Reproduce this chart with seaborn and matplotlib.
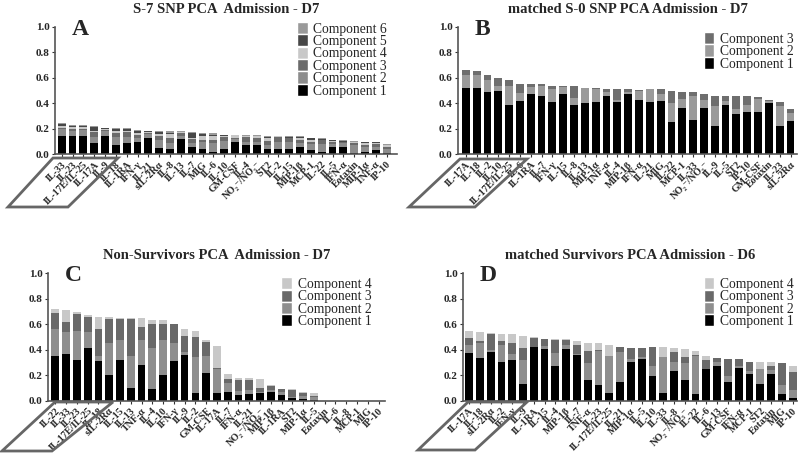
import numpy as np
import pandas as pd
import seaborn as sns
import matplotlib.pyplot as plt
from matplotlib.patches import Patch, Polygon

sns.set_style('ticks')
plt.rcParams['font.family'] = ['Liberation Serif', 'DejaVu Serif']

NOX = 'NO\u2082\u207b/NO\u2083\u207b'

# ---- panel A: S-7 SNP, 6 components
labels_a = ['IL-33', 'IL-23', 'IL-17E/IL-25', 'IL-17A', 'IL-9', 'IL-18', 'IL-1RA', 'IFN-γ',
            'IL-21', 'sIL-2Rα', 'IL-8', 'IL-13', 'IL-7', 'MIG', 'IL-6', 'IL-10', 'GM-CSF',
            'IL-4', NOX, 'ST2', 'IL-2', 'IL-15', 'MIP-1β', 'MCP-1', 'IL-22', 'IL-5',
            'IFN-α', 'Eotaxin', 'MIP-1α', 'TNF-α', 'IP-10']
a1 = [.145, .145, .145, .085, .145, .075, .09, .10, .13, .05, .04, .12, .06, .045, .02, .045,
      .10, .07, .07, .045, .045, .045, .06, .03, .02, .06, .06, .01, .015, .03, .01]
a2 = [.05, .04, .045, .05, .035, .06, .045, .03, .03, .06, .05, .02, .03, .05, .07, .06,
      .02, .03, .03, .03, .05, .05, .03, .05, .06, .02, .025, .06, .04, .03, .03]
a3 = [.015, .015, .01, .04, .01, .03, .04, .02, .01, .03, .04, .03, .03, .02, .02, .03,
      .01, .035, .03, .03, .04, .03, .02, .02, .03, .015, .01, .02, .02, .02, .015]
a4 = [.015, .015, .015, .01, .01, .02, .005, .02, .005, .02, .03, .005, .01, .03, .035, .01,
      .02, .005, .01, .02, .005, .005, .015, .015, .005, .01, .005, .01, .01, .01, .015]
a5 = [.01, .005, .005, .03, .005, .015, .02, .01, .005, .015, .01, .003, .04, .015, .01, .005,
      0, .005, .005, .01, 0, .005, .01, .01, .005, .005, .005, 0, .01, .005, .005]
a6 = [.01, .01, .01, .005, .005, .01, .005, .01, .005, .01, .01, .002, .005, .01, .01, .005,
      .005, .005, .005, .01, .005, .005, .005, .005, .005, .005, .005, .005, .005, .005, .005]

# ---- panel B: matched S-0 SNP, 3 components
labels_b = ['IL-17A', 'IL-18', 'IL-2', 'IL-10', 'IL-17E/IL-25', 'IL-6', 'IL-1RA', 'IL-7',
            'IFN-γ', 'IL-15', 'IL-8', 'IL-13', 'MIP-1α', 'TNF-α', 'IL-4', 'MIP-1β', 'IFN-α',
            'IL-21', 'MIG', 'IL-22', 'MCP-1', 'IL-33', NOX, 'IL-9', 'IL-5', 'ST2', 'IP-10',
            'GM-CSF', 'Eotaxin', 'IL-23', 'sIL-2Rα']
b1 = [.52, .52, .49, .50, .385, .42, .475, .46, .41, .47, .39, .40, .41, .46, .41, .47, .43,
      .41, .42, .25, .365, .27, .365, .22, .39, .315, .335, .335, .40, .22, .265]
b2 = [.10, .105, .095, .04, .155, .06, .05, .08, .10, .06, .05, .12, .10, .03, .02, .02, .07,
      .10, .05, .15, .07, .19, .06, .16, .03, .04, .05, .10, .02, .16, .06]
b3 = [.045, .03, .04, .06, .04, .075, .025, .015, .03, .01, .10, 0, .01, .02, .08, .02, .005,
      0, .04, .10, .055, .03, .045, .075, .035, .10, .07, .015, .01, .03, .03]

# ---- panel C: non-survivors, 4 components
labels_c = ['IL-22', 'IL-33', 'IL-23', 'IL-17E/IL-25', 'IL-18', 'sIL-2Rα', 'IL-15', 'IL-13',
            'TNF-α', 'IL-4', 'IL-10', 'IFN-γ', 'IL-9', 'IL-2', 'GM-CSF', 'IL-17A', 'IL-7',
            'IFN-α', 'IL-21', NOX, 'MIP-1β', 'IL-1RA', 'ST2', 'MIP-1α', 'IL-5', 'Eotaxin',
            'IL-6', 'IL-8', 'MCP-1', 'MIG', 'IP-10']
c1 = [.35, .37, .32, .41, .31, .20, .32, .10, .28, .09, .20, .31, .36, .06, .22, .06, .07,
      .045, .055, .06, .065, .045, .025, .015, .005, 0, 0, 0, 0, 0, 0]
c2 = [.21, .17, .23, .13, .04, .25, .16, .25, .20, .32, .28, .14, .02, .28, .13, .19, .07,
      .03, .03, .01, .02, .025, .005, .025, .025, 0, 0, 0, 0, 0, 0]
c3 = [.13, .08, .13, .12, .21, .19, .16, .29, .10, .19, .12, .15, .13, .16, .11, .01, .03,
      .09, .08, .03, .03, .02, .055, .02, .01, 0, 0, 0, 0, 0, 0]
c4 = [.03, .09, .02, .01, .10, .02, .01, .01, .07, .03, .03, 0, .05, .05, .02, .17, .04,
      .015, .01, .07, .01, .005, .005, .005, .02, 0, 0, 0, 0, 0, 0]

# ---- panel D: matched survivors, 4 components
labels_d = ['IL-17A', 'IL-18', 'sIL-2Rα', 'IL-2', 'IFN-γ', 'IL-9', 'IL-1RA', 'IL-15', 'IL-4',
            'MIP-1β', 'IL-7', 'TNF-α', 'IL-23', 'IL-17E/IL-25', 'IL-21', 'MIP-1α', 'IL-5',
            'IL-10', 'IL-33', 'IL-8', NOX, 'IL-22', 'IL-6', 'IL-13', 'GM-CSF', 'IFN-α',
            'MCP-1', 'ST2', 'Eotaxin', 'MIG', 'IP-10']
d1 = [.375, .335, .38, .30, .32, .13, .42, .408, .275, .405, .36, .165, .125, .058, .145, .30,
      .325, .19, .06, .23, .165, .055, .247, .275, .15, .26, .21, .13, .21, .055, .018]
d2 = [.06, .115, .02, .14, .05, .19, .005, .02, .10, .03, .01, .13, .265, .29, .24, .03, .02,
      .08, .285, .07, .13, .295, .005, .025, .045, .01, .02, .115, .03, .07, .065]
d3 = [.055, .015, .12, .03, .08, .09, .07, .055, .10, .04, .07, .095, .01, .005, .035, .08,
      .065, .15, 0, .08, .05, .01, .07, .035, .13, .055, .07, .005, .03, .17, .145]
d4 = [.055, .075, .01, .055, .07, .10, .005, .005, .01, .01, .03, .06, .05, .085, .005, .005,
      .005, 0, .08, .03, .06, .03, .03, 0, 0, 0, 0, .05, .03, 0, .045]

grey6 = ['#000000', '#8c8c8c', '#6b6b6b', '#c8c8c8', '#474747', '#9a9a9a']
grey3 = ['#000000', '#9a9a9a', '#6e6e6e']
grey4 = ['#000000', '#8e8e8e', '#696969', '#c8c8c8']

W, H = 800, 453
fig = plt.figure(figsize=(8, 4.53), dpi=100)


def px_box(x0, y0, x1, y1):
    return [x0 / W, 1 - y1 / H, (x1 - x0) / W, (y1 - y0) / H]


def panel(rect, labels, comps, colors, title, letter, xlim, leg_anchor):
    ax = fig.add_axes(rect)
    cum = np.cumsum(np.array(comps), axis=0)
    # draw from the top of the stack down so lower parts cover upper ones
    for k in range(len(comps) - 1, -1, -1):
        sns.barplot(x=labels, y=cum[k], order=labels, color=colors[k], saturation=1,
                    width=0.72, errorbar=None, linewidth=0, ax=ax)
    ax.set_xlim(*xlim)
    ax.set_ylim(0, 1.0)
    ax.set_yticks([0, .2, .4, .6, .8, 1.0])
    ax.set_yticklabels(['0.0', '0.2', '0.4', '0.6', '0.8', '1.0'], fontweight='bold', fontsize=8)
    ax.set_xticks(range(len(labels)))
    ax.set_xticklabels(labels, rotation=45, ha='right', rotation_mode='anchor',
                       fontweight='bold', fontsize=7.2)
    ax.tick_params(axis='both', length=2.5, width=0.8, pad=1.5, color='#333333')
    ax.set_xlabel('')
    ax.set_ylabel('')
    sns.despine(ax=ax)
    for s in ['left', 'bottom']:
        ax.spines[s].set_color('#555555')
        ax.spines[s].set_linewidth(1.2)
    ax.set_title(title, fontweight='bold', fontsize=10.5, pad=10)
    ax.text(0.05, 0.98, letter, transform=ax.transAxes, fontsize=17, fontweight='bold',
            va='center', ha='left')
    handles = [Patch(facecolor=colors[k], label=f'Component {k + 1}') for k in range(len(comps))][::-1]
    ax.legend(handles=handles, loc='upper right', bbox_to_anchor=leg_anchor, frameon=False,
              fontsize=9.8, labelspacing=-0.1, handlelength=0.8, handleheight=1.0,
              handletextpad=0.4, borderaxespad=0, borderpad=0)
    return ax


panel(px_box(55, 27, 397, 154.3), labels_a, [a1, a2, a3, a4, a5, a6], grey6,
      'S-7 SNP PCA  Admission - D7', 'A', (-0.62, 30.95), (0.97, 1.04))
panel(px_box(458, 27, 797, 154.3), labels_b, [b1, b2, b3], grey3,
      'matched S-0 SNP PCA Admission - D7', 'B', (-0.72, 30.6), (0.99, 0.96))
panel(px_box(48, 273.3, 385, 400.7), labels_c, [c1, c2, c3, c4], grey4,
      'Non-Survivors PCA  Admission - D7', 'C', (-0.68, 30.6), (0.96, 0.97))
panel(px_box(463, 273.3, 797, 400.7), labels_d, [d1, d2, d3, d4], grey4,
      'matched Survivors PCA Admission - D6', 'D', (-0.56, 30.4), (0.99, 0.97))

# grey parallelograms around the first labels
boxes = [
    [(53, 158), (118, 158), (68, 207), (8, 207)],
    [(460, 159), (527, 159), (475, 207), (409, 207)],
    [(55, 402), (113, 402), (52, 451), (2, 451)],
    [(468, 402), (527, 402), (475, 450), (418, 450)],
]
for pts in boxes:
    fig.patches.append(Polygon([(x / W, 1 - y / H) for x, y in pts], closed=True, fill=False,
                               edgecolor='#666666', linewidth=2, transform=fig.transFigure))

fig.savefig('out.png', dpi=100)
